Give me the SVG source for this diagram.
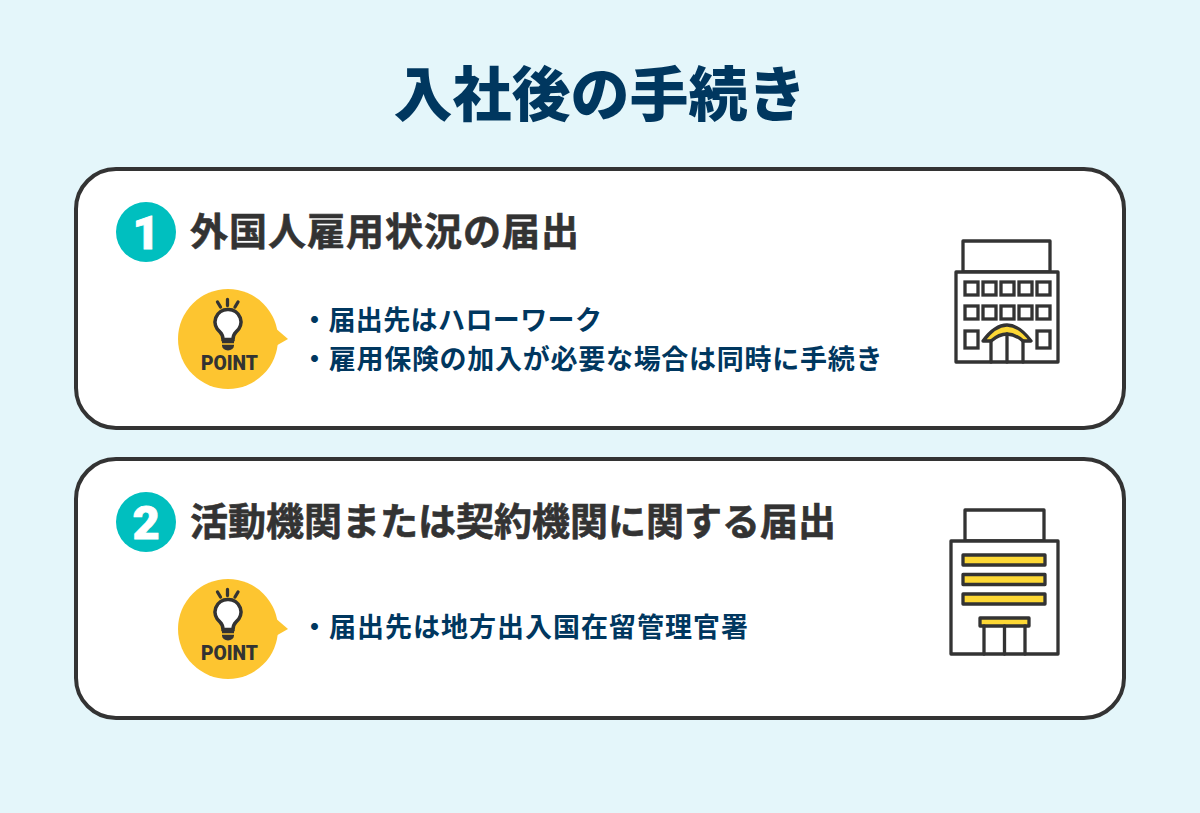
<svg xmlns="http://www.w3.org/2000/svg" width="1200" height="813" viewBox="0 0 1200 813">
<style>
.t{font-family:"Noto Sans CJK JP","Noto Sans",sans-serif}
.title{font-size:59px;font-weight:900;fill:#00375f;text-anchor:middle}
.h{font-size:38px;font-weight:700;fill:#333;stroke:#333;stroke-width:.6px}
.b{font-size:27px;font-weight:700;fill:#00375f}
.card{fill:#fff;stroke:#333;stroke-width:4}
.num{fill:#00bfbf}
.numt{font-family:"Roboto",sans-serif;font-size:47px;font-weight:900;fill:#fff;stroke:#fff;stroke-width:.8px;text-anchor:middle}
.pt{fill:#fdc530}
.ptx{font-family:"Roboto",sans-serif;font-size:20px;font-weight:900;fill:#333}
.ln{fill:#fff;stroke:#333;stroke-width:3.300;stroke-linejoin:round}
.y{fill:#fdd835;stroke:#333;stroke-width:3.300;stroke-linejoin:round}
.o{fill:none;stroke:#333;stroke-width:3.300;stroke-linecap:round}
</style>
<defs>
<g id="point">
<circle cx="228" cy="339" r="50" class="pt"/>
<path d="M274 327L288 339L274 347Z" class="pt"/>
<path d="M228 309.500a12.500 12.500 0 0 0-8 22.500c2.500 2.500 3 5 3 7.500h10c0-2.500.5-5 3-7.500a12.500 12.500 0 0 0-8-22.500Z" fill="#fff" stroke="#333" stroke-width="3.500"/>
<path d="M222 340h12v5.500a6 5 0 0 1-12 0Z" fill="#333"/>
<path d="M222 344h12" stroke="#fdc530" stroke-width="1.500"/>
<path d="M217.500 302l3 5M227.500 299.500v6M238 302l-3 5" class="o"/>
<text x="201" y="370" class="ptx" textLength="57" lengthAdjust="spacingAndGlyphs">POINT</text>
</g>
</defs>
<rect width="1200" height="813" fill="#e4f6fa"/>
<text x="600" y="116" class="t title">入社後の手続き</text>

<g id="card1">
<rect x="76" y="169" width="1048" height="259" rx="40" class="card"/>
<circle cx="146" cy="232" r="30" class="num"/>
<text x="146" y="248.500" class="numt">1</text>
<text x="190" y="245" class="t h" letter-spacing="1">外国人雇用状況の届出</text>
<use href="#point"/>
<text x="301" y="330" class="t b" letter-spacing=".4">・届出先はハローワーク</text>
<text x="301" y="369" class="t b" letter-spacing=".72">・雇用保険の加入が必要な場合は同時に手続き</text>
<g id="building1">
<rect x="963" y="241" width="87" height="31" class="ln"/>
<rect x="956" y="272" width="102" height="90" class="ln"/>
<g fill="#fff" stroke="#333" stroke-width="3.300">
<rect x="965" y="282" width="13" height="13"/><rect x="983" y="282" width="13" height="13"/><rect x="1001" y="282" width="13" height="13"/><rect x="1019" y="282" width="13" height="13"/><rect x="1037" y="282" width="13" height="13"/>
<rect x="965" y="306" width="13" height="13"/><rect x="983" y="306" width="13" height="13"/><rect x="1001" y="306" width="13" height="13"/><rect x="1019" y="306" width="13" height="13"/><rect x="1037" y="306" width="13" height="13"/>
<rect x="965" y="331" width="13" height="17"/><rect x="1037" y="331" width="13" height="17"/>
</g>
<path d="M983 341Q1007 309 1031 341L1023 341Q1007 327 991 341Z" class="y"/>
<path d="M991 341V362M1007 334V362M1023 341V362" class="o"/>
</g>
</g>

<g id="card2">
<rect x="76" y="459" width="1048" height="259" rx="40" class="card"/>
<circle cx="146" cy="522" r="30" class="num"/>
<text x="146" y="538.500" class="numt">2</text>
<text x="190" y="535" class="t h">活動機関または契約機関に関する届出</text>
<use href="#point" y="290"/>
<text x="301" y="637" class="t b" letter-spacing="1">・届出先は地方出入国在留管理官署</text>
<g id="building2">
<rect x="965" y="510" width="79" height="31" class="ln"/>
<rect x="951" y="541" width="107" height="113" class="ln"/>
<rect x="963" y="555" width="82" height="10" class="y"/>
<rect x="963" y="574.500" width="82" height="10" class="y"/>
<rect x="963" y="594" width="82" height="10" class="y"/>
<rect x="980" y="618" width="49" height="8" class="y"/>
<path d="M984 626V654M1004.500 626V654M1025 626V654" class="o"/>
</g>
</g>
</svg>
